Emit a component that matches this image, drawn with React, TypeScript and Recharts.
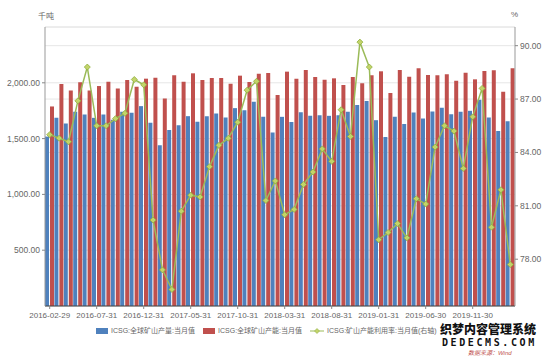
import React from 'react';
import { ComposedChart, Bar, Line, XAxis, YAxis, CartesianGrid } from 'recharts';

const categories = [
  '2016-02-29', '2016-03-31', '2016-04-30', '2016-05-31', '2016-06-30', '2016-07-31', '2016-08-31', '2016-09-30', '2016-10-31', '2016-11-30',
  '2016-12-31', '2017-01-31', '2017-02-28', '2017-03-31', '2017-04-30', '2017-05-31', '2017-06-30', '2017-07-31', '2017-08-31', '2017-09-30',
  '2017-10-31', '2017-11-30', '2017-12-31', '2018-01-31', '2018-02-28', '2018-03-31', '2018-04-30', '2018-05-31', '2018-06-30', '2018-07-31',
  '2018-08-31', '2018-09-30', '2018-10-31', '2018-11-30', '2018-12-31', '2019-01-31', '2019-02-28', '2019-03-31', '2019-04-30', '2019-05-31',
  '2019-06-30', '2019-07-31', '2019-08-31', '2019-09-30', '2019-10-31', '2019-11-30', '2019-12-31', '2020-01-31', '2020-02-29', '2020-03-31',
];

const production = [
  1518, 1686, 1635, 1740, 1716, 1686, 1716, 1668, 1740, 1731,
  1791, 1641, 1441, 1578, 1620, 1701, 1650, 1701, 1725, 1689,
  1773, 1755, 1830, 1695, 1554, 1695, 1648, 1737, 1704, 1710,
  1704, 1710, 1740, 1800, 1836, 1665, 1515, 1695, 1630, 1734,
  1680, 1743, 1776, 1719, 1740, 1749, 1848, 1689, 1569, 1656,
];

const capacity = [
  1788, 1989, 1932, 2004, 1932, 1971, 2010, 1950, 2025, 1965,
  2037, 2046, 1860, 2067, 2010, 2085, 2025, 2043, 2043, 1992,
  2064, 2007, 2082, 2088, 1890, 2100, 2037, 2115, 2052, 2028,
  2040, 1980, 2052, 1995, 2067, 2103, 1908, 2115, 2055, 2130,
  2070, 2067, 2076, 2019, 2091, 2031, 2106, 2112, 1920, 2130,
];

const utilization = [
  85.0, 84.8, 84.6, 86.9, 88.8, 85.5, 85.5, 85.9, 86.2, 88.1,
  87.8, 80.2, 77.4, 76.3, 80.7, 81.6, 81.5, 83.2, 84.4, 84.8,
  85.7, 87.5, 88.0, 81.3, 82.4, 80.5, 80.8, 82.2, 82.9, 84.2,
  83.5, 86.4, 84.9, 90.2, 88.8, 79.1, 79.5, 80.0, 79.2, 81.4,
  81.1, 84.3, 85.5, 85.2, 83.1, 86.0, 87.6, 79.8, 81.9, 77.7,
];

const leftTicks = [0, 500, 1000, 1500, 2000, 2500];
const rightTicks = [78, 81, 84, 87, 90];

const seriesNames = ['ICSG:全球矿山产量:当月值', 'ICSG:全球矿山产能:当月值', 'ICSG:矿山产能利用率:当月值(右轴)'];
const leftUnit = '千吨';
const rightUnit = '%';
const watermark1 = '织梦内容管理系统';
const watermark2 = 'DEDECMS.COM';
const sourceNote = '数据来源：Wind';

const data = categories.map((d, i) => ({
  date: d,
  production: production[i],
  capacity: capacity[i],
  utilization: utilization[i],
}));

const BLUE = '#4f81bd';
const RED = '#c0504d';
const GREEN = '#9bbb59';
const FONT = '"Liberation Sans", "Noto Sans CJK SC", sans-serif';

const fmt2 = (v: number) =>
  v.toLocaleString('en-US', { minimumFractionDigits: 2, maximumFractionDigits: 2 });

const LeftTick = (props: any) => {
  const { x, y, payload } = props;
  if (payload.value === 0 || payload.value === 2500) return <g />;
  return (
    <g>
      <line x1={x + 2} x2={x + 5} y1={y} y2={y} stroke="#888" />
      <text x={x} y={y} dy={3} textAnchor="end" fontSize={8.5} fill="#666" fontFamily={FONT}>
        {fmt2(payload.value)}
      </text>
    </g>
  );
};

const RightTick = (props: any) => {
  const { x, y, payload } = props;
  return (
    <g>
      <line x1={x - 5} x2={x - 2} y1={y} y2={y} stroke="#888" />
      <text x={x} y={y} dy={3} textAnchor="start" fontSize={8.5} fill="#666" fontFamily={FONT}>
        {fmt2(payload.value)}
      </text>
    </g>
  );
};

const Diamond = (props: any) => {
  const { cx, cy } = props;
  if (cx == null || cy == null) return <g />;
  const r = 3;
  return (
    <path
      d={`M${cx},${cy - r}L${cx + r},${cy}L${cx},${cy + r}L${cx - r},${cy}Z`}
      fill="#c3d46a"
      stroke="#8fae3f"
      strokeWidth={0.8}
    />
  );
};

export default function App() {
  return (
    <div style={{ position: 'absolute', left: 0, top: 0, width: 550, height: 357, background: '#fff', fontFamily: FONT, overflow: 'hidden' }}>
      <ComposedChart
        width={550}
        height={357}
        data={data}
        margin={{ top: 27, right: 0, left: 0, bottom: 31 }}
        barSize={4}
        barGap={1}
      >
        <CartesianGrid yAxisId="left" vertical={false} stroke="#e6e6e6" />
        <CartesianGrid yAxisId="right" vertical={false} stroke="#e6e6e6" />
        <XAxis
          dataKey="date"
          interval={4}
          height={20}
          tickSize={3}
          tickMargin={3}
          axisLine={{ stroke: '#444' }}
          tickLine={{ stroke: '#888' }}
          tick={{ fontSize: 8, fill: '#666', fontFamily: FONT }}
        />
        <YAxis
          yAxisId="left"
          orientation="left"
          width={45}
          domain={[0, 2500]}
          ticks={leftTicks}
          tickLine={false}
          tickSize={3}
          tickMargin={2}
          axisLine={{ stroke: '#999' }}
          tick={<LeftTick />}
          interval={0}
        />
        <YAxis
          yAxisId="right"
          orientation="right"
          width={35}
          domain={[75.37, 91.05]}
          ticks={rightTicks}
          tickLine={false}
          tickSize={3}
          tickMargin={2}
          axisLine={{ stroke: '#999' }}
          tick={<RightTick />}
          interval={0}
          allowDataOverflow
        />
        <Bar yAxisId="left" dataKey="production" fill={BLUE} isAnimationActive={false} />
        <Bar yAxisId="left" dataKey="capacity" fill={RED} isAnimationActive={false} />
        <Line
          yAxisId="right"
          dataKey="utilization"
          type="linear"
          stroke={GREEN}
          strokeWidth={1.5}
          dot={<Diamond />}
          activeDot={false}
          isAnimationActive={false}
        />
      </ComposedChart>

      <div style={{ position: 'absolute', left: 38, top: 10, fontSize: 8, color: '#666' }}>{leftUnit}</div>
      <div style={{ position: 'absolute', left: 511, top: 10, fontSize: 8, color: '#666' }}>{rightUnit}</div>

      <div style={{ position: 'absolute', left: 96, top: 326, display: 'flex', alignItems: 'center', fontSize: 7, lineHeight: '9px', color: '#666', whiteSpace: 'nowrap' }}>
        <span style={{ display: 'inline-block', width: 12, height: 6, background: BLUE, marginRight: 3 }} />
        <span style={{ marginRight: 8 }}>{seriesNames[0]}</span>
        <span style={{ display: 'inline-block', width: 12, height: 6, background: RED, marginRight: 3 }} />
        <span style={{ marginRight: 8 }}>{seriesNames[1]}</span>
        <svg width={14} height={8} style={{ marginRight: 3 }}>
          <line x1={0} x2={14} y1={4} y2={4} stroke={GREEN} strokeWidth={1} />
          <path d="M7,1.5L9.5,4L7,6.5L4.5,4Z" fill="#c3d46a" stroke="#8fae3f" strokeWidth={0.6} />
        </svg>
        <span>{seriesNames[2]}</span>
      </div>

      <div style={{ position: 'absolute', left: 440, top: 321, whiteSpace: 'nowrap', fontSize: 12, fontWeight: 900, color: '#111', fontFamily: '"Noto Sans CJK SC", sans-serif', lineHeight: '15px', textShadow: '1px 1px 0 #fff, -1px -1px 0 #fff, 1px -1px 0 #fff, -1px 1px 0 #fff' }}>
        {watermark1}
      </div>
      <div style={{ position: 'absolute', left: 442, top: 337, whiteSpace: 'nowrap', fontSize: 10, fontWeight: 700, color: '#111', letterSpacing: 2.6, fontFamily: '"DejaVu Sans Mono", monospace', lineHeight: '11px' }}>
        {watermark2}
      </div>
      <div style={{ position: 'absolute', left: 468, top: 350, whiteSpace: 'nowrap', fontSize: 6, fontStyle: 'italic', color: '#c0504d', lineHeight: '7px' }}>
        {sourceNote}
      </div>
    </div>
  );
}
